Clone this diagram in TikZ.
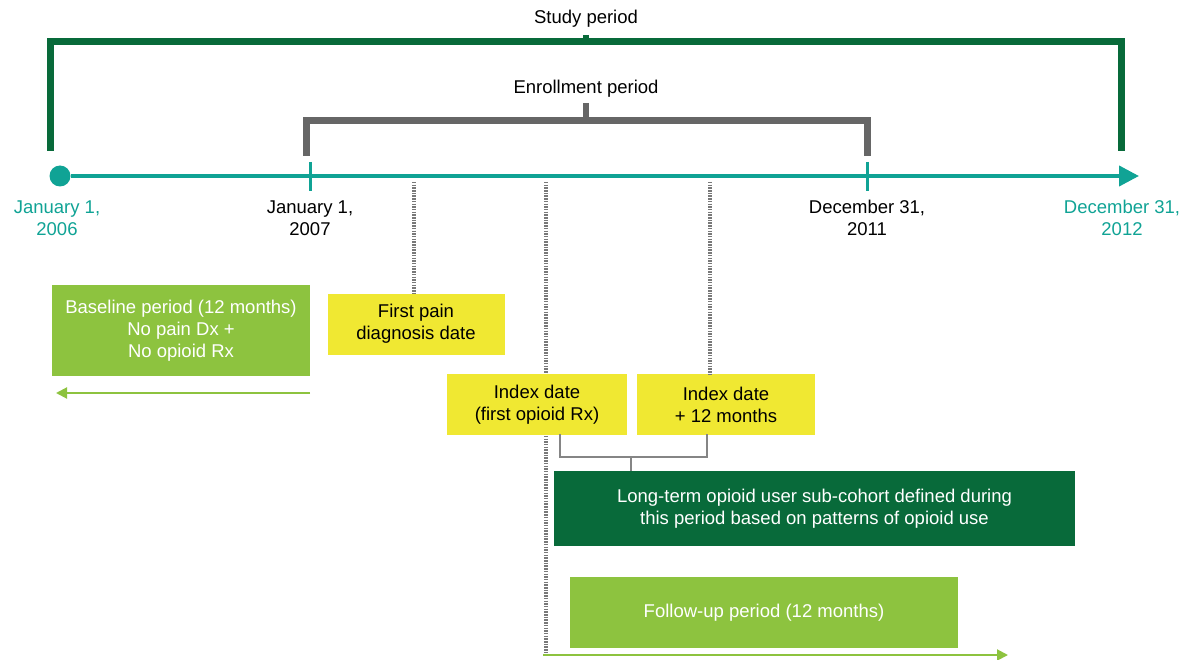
\documentclass[tikz,border=0pt]{standalone}
\usepackage{fontspec}
\setmainfont{Liberation Sans}
\usetikzlibrary{arrows.meta}
\definecolor{tealline}{RGB}{16,163,149}
\definecolor{studygreen}{RGB}{8,106,58}
\definecolor{enrollgray}{RGB}{102,102,102}
\definecolor{periodgreen}{RGB}{141,195,63}
\definecolor{dateyellow}{RGB}{240,232,50}
\definecolor{dotgray}{RGB}{120,120,120}

\begin{document}
\begin{tikzpicture}[x=1pt,y=-1pt,font=\fontsize{18.5}{22}\selectfont]
    %
    % `datebox' is used for the yellow date boxes.
    % `periodbox' is used for the light green periods.
    % `bracket' is used for the study and enrollment brackets.
    \tikzstyle{datebox} = [fill=dateyellow,align=center,inner sep=0pt]
    \tikzstyle{periodbox} = [fill=periodgreen,text=white,align=center,inner sep=0pt]
    \tikzstyle{cohortbox} = [fill=studygreen,text=white,align=center,inner sep=0pt]
    \tikzstyle{bracket} = [line width=7pt,miter limit=10]
    \tikzstyle{datelabel} = [align=center,inner sep=0pt]
    \tikzstyle{guide} = [dotgray,line width=3.5pt,dash pattern=on 1.5pt off 1.2pt]
    \tikzstyle{tick} = [tealline,line width=3pt]
    \tikzstyle{span} = [periodgreen,line width=2pt,-{Triangle[length=11pt,width=11pt]}]
    %
    \useasboundingbox (0,0) rectangle (1188,660);
    %
    % Timeline
    \node[circle,fill=tealline,minimum size=21pt,inner sep=0pt] (start) at (60,176) {};
    \coordinate (stop) at (1139,176);
    \draw[tealline,line width=4pt,-{Triangle[length=20pt,width=20pt]}] (start) -- (stop);
    \coordinate (t07) at (310,162);
    \coordinate (t11) at (867,162);
    \draw[tick] (t07) -- ++(0,29);
    \draw[tick] (t11) -- ++(0,29);
    %
    % Study period
    \node at (586,19) (study) {Study period};
    \coordinate (s1) at (50,151);
    \coordinate (s2) at (1121,151);
    \draw[bracket,studygreen] (s1) -- (50,42) -- (1121,42) -- (s2);
    \draw[studygreen,line width=6pt] (586,35) -- (586,42);
    %
    % Enrollment period
    \node at (586,89) (enroll) {Enrollment period};
    \coordinate (e1) at (306,156);
    \coordinate (e2) at (867,156);
    \draw[bracket,enrollgray] (e1) -- (306,121) -- (867,121) -- (e2);
    \draw[enrollgray,line width=6pt] (586,103) -- (586,121);
    %
    % Dates
    \node[datelabel,text=tealline] (d06) at (57,218) {January 1,\\2006};
    \node[datelabel] (d07) at (310,218) {January 1,\\2007};
    \node[datelabel] (d11) at (867,218) {December 31,\\2011};
    \node[datelabel,text=tealline] (d12) at (1122,218) {December 31,\\2012};
    %
    % Guides from the timeline
    \coordinate (g1) at (414,182);
    \coordinate (g2) at (546,182);
    \coordinate (g3) at (710,182);
    \coordinate (g2end) at (546,656);
    \draw[guide] (g2) -- (g2end);
    %
    % Boxes
    \node[periodbox,minimum width=258pt,minimum height=91pt] (base) at (181,330.5) {Baseline period (12 months)\\No pain Dx +\\No opioid Rx};
    \node[datebox,minimum width=177pt,minimum height=61pt] (pain) at (416,324) {First pain\\diagnosis date};
    \node[datebox,minimum width=180pt,minimum height=61pt] (index) at (537,404.5) {Index date\\(first opioid Rx)};
    \node[datebox,minimum width=178pt,minimum height=61pt] (index12) at (726,404.5) {Index date\\+ 12 months};
    \node[cohortbox,minimum width=521pt,minimum height=75pt] (cohort) at (814.5,508.5) {Long-term opioid user sub-cohort defined during\\this period based on patterns of opioid use};
    \node[periodbox,minimum width=388pt,minimum height=71pt] (follow) at (764,612.5) {Follow-up period (12 months)};
    %
    \draw[guide] (g1) -- (g1 |- pain.north);
    \draw[guide] (g3) -- (g3 |- index12.north);
    %
    % Index bracket
    \coordinate (b1) at (560,434);
    \coordinate (b2) at (707,434);
    \coordinate (bm) at (631,457);
    \draw[enrollgray!80,line width=2pt] (b1) |- (bm) -| (b2);
    \draw[enrollgray!80,line width=2pt] (bm) -- (bm |- cohort.north);
    %
    % Period arrows
    \coordinate (a1) at (310,393);
    \coordinate (a2) at (56,393);
    \draw[span] (a1) -- (a2);
    \coordinate (f1) at (543,655);
    \coordinate (f2) at (1008,655);
    \draw[span] (f1) -- (f2);
    %
\end{tikzpicture}
\end{document}
